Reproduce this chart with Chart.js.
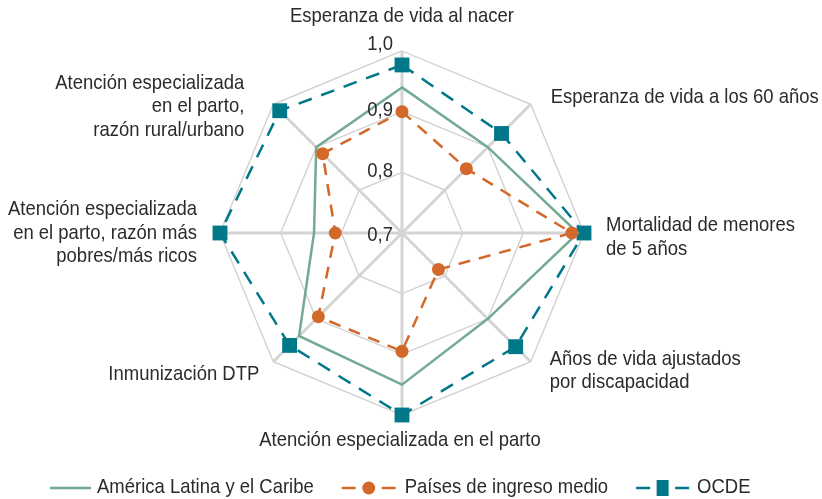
<!DOCTYPE html>
<html>
<head>
<meta charset="utf-8">
<script src="https://cdn.jsdelivr.net/npm/chart.js@4"></script>
<style>
  html, body { margin: 0; padding: 0; background: #fff; }
  #wrap { width: 822px; height: 499px; position: relative; }
</style>
</head>
<body>
<div id="wrap"><canvas id="radarChart"></canvas></div>
<script>
// Indicators (clockwise from top), one entry per line of the label
const indicators = [
  ["Esperanza de vida al nacer"],
  ["Esperanza de vida a los 60 años"],
  ["Mortalidad de menores", "de 5 años"],
  ["Años de vida ajustados", "por discapacidad"],
  ["Atención especializada en el parto"],
  ["Inmunización DTP"],
  ["Atención especializada", "en el parto, razón más", "pobres/más ricos"],
  ["Atención especializada", "en el parto,", "razón rural/urbano"]
];

const seriesNames = ["América Latina y el Caribe", "Países de ingreso medio", "OCDE"];
const alcValues  = [0.94, 0.90, 0.99, 0.90, 0.95, 0.94, 0.845, 0.90];
const pimValues  = [0.90, 0.85, 0.98, 0.785, 0.895, 0.895, 0.81, 0.885];
const ocdeValues = [0.977, 0.932, 1.0, 0.965, 1.0, 0.962, 1.0, 0.985];
const tickValues = [0.7, 0.8, 0.9, 1.0];

const FONT = "21px 'Liberation Sans', Arial, sans-serif";
const NARROW = 0.88; // horizontal squeeze, the original uses a narrow face
const TEXT = "#2b2b2b";
const GREEN = "#74aa92";
const ORANGE = "#d2692a";
const TEAL = "#00788a";

// where each axis label sits, relative to the outer vertex
const labelPlace = [
  { align: "center", dx: 0,   dy: -35 },
  { align: "left",   dx: 20,  dy: -7 },
  { align: "left",   dx: 22,  dy: 4 },
  { align: "left",   dx: 19,  dy: 9 },
  { align: "center", dx: -2,  dy: 25 },
  { align: "right",  dx: -14, dy: 13 },
  { align: "right",  dx: -23, dy: 0 },
  { align: "right",  dx: -29, dy: 2 }
];

function narrowText(ctx, str, x, y, align) {
  ctx.save();
  ctx.translate(x, y);
  ctx.scale(NARROW, 1);
  ctx.textAlign = align;
  ctx.fillText(str, 0, 0);
  ctx.restore();
}

const textPlugin = {
  id: "radarText",
  afterDatasetsDraw(chart) {
    const ctx = chart.ctx;
    const r = chart.scales.r;
    ctx.save();
    ctx.fillStyle = TEXT;
    ctx.font = FONT;
    ctx.textBaseline = "middle";

    // tick labels, left of the vertical axis
    tickValues.forEach((v, i) => {
      const p = r.getPointPositionForValue(0, v);
      const lift = i === tickValues.length - 1 ? -7 : (i === 0 ? 2 : -1);
      narrowText(ctx, v.toFixed(1).replace(".", ","), p.x - 9, p.y + lift, "right");
    });

    // axis labels
    const lh = 23.5;
    indicators.forEach((lines, i) => {
      const v = r.getPointPosition(i, r.drawingArea);
      const pl = labelPlace[i];
      const top = v.y + pl.dy - (lines.length - 1) * lh / 2;
      lines.forEach((ln, j) => narrowText(ctx, ln, v.x + pl.dx, top + j * lh, pl.align));
    });

    // legend
    const ly = 487;
    const sampleW = [41, 54, 53];
    const gapText = [6, 9, 8];
    const gapItem = 28;
    let x = 50;
    const ds = chart.data.datasets;
    seriesNames.forEach((n, i) => {
      const d = ds[i];
      const w = sampleW[i];
      ctx.strokeStyle = d.borderColor;
      ctx.lineWidth = 2.5;
      if (i === 0) {
        ctx.beginPath(); ctx.moveTo(x, ly + 1); ctx.lineTo(x + w, ly + 1); ctx.stroke();
      } else {
        const seg = 14;
        ctx.beginPath();
        ctx.moveTo(x, ly + 1); ctx.lineTo(x + seg, ly + 1);
        ctx.moveTo(x + w - seg, ly + 1); ctx.lineTo(x + w, ly + 1);
        ctx.stroke();
        ctx.fillStyle = d.pointBackgroundColor;
        if (i === 1) {
          ctx.beginPath(); ctx.arc(x + w / 2, ly + 1, 6.5, 0, Math.PI * 2); ctx.fill();
        } else {
          ctx.fillRect(x + w / 2 - 6, ly - 7, 12, 16);
        }
        ctx.fillStyle = TEXT;
      }
      const tx = x + w + gapText[i];
      narrowText(ctx, n, tx, ly, "left");
      x = tx + ctx.measureText(n).width * NARROW + gapItem;
    });
    ctx.restore();
  }
};

new Chart(document.getElementById("radarChart").getContext("2d"), {
  type: "radar",
  data: {
    labels: indicators,
    datasets: [
      {
        label: seriesNames[0],
        data: alcValues,
        borderColor: GREEN,
        backgroundColor: "transparent",
        borderWidth: 2.5,
        pointRadius: 0,
        fill: false,
        order: 2
      },
      {
        label: seriesNames[1],
        data: pimValues,
        borderColor: ORANGE,
        backgroundColor: "transparent",
        borderWidth: 2.5,
        borderDash: [12, 9],
        pointStyle: "circle",
        pointRadius: 6.5,
        pointBackgroundColor: ORANGE,
        pointBorderColor: ORANGE,
        pointBorderWidth: 0,
        fill: false,
        order: 1
      },
      {
        label: seriesNames[2],
        data: ocdeValues,
        borderColor: TEAL,
        backgroundColor: "transparent",
        borderWidth: 2.5,
        borderDash: [14, 10],
        pointStyle: "rect",
        pointRadius: 10.5,
        pointBackgroundColor: TEAL,
        pointBorderColor: TEAL,
        pointBorderWidth: 0,
        fill: false,
        order: 3
      }
    ]
  },
  options: {
    responsive: true,
    maintainAspectRatio: false,
    animation: false,
    layout: { padding: { top: 51, bottom: 84, left: 200, right: 218 } },
    plugins: {
      legend: { display: false },
      tooltip: { enabled: false }
    },
    scales: {
      r: {
        min: 0.7,
        max: 1.0,
        ticks: { stepSize: 0.1, display: false },
        pointLabels: { display: false },
        grid: { color: "#cfcfcf", lineWidth: 1.3 },
        angleLines: { color: "#d4d4d4", lineWidth: 3 }
      }
    }
  },
  plugins: [textPlugin]
});
</script>
</body>
</html>
